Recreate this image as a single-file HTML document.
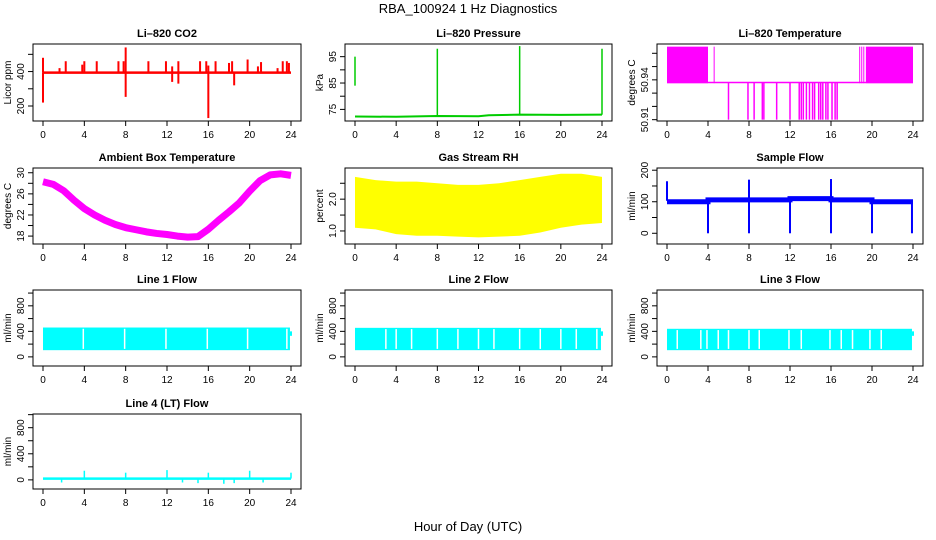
<!DOCTYPE html>
<html><head><meta charset="utf-8">
<style>
html,body{margin:0;padding:0;background:#fff;}
svg{display:block;font-family:"Liberation Sans",sans-serif;}
</style></head>
<body>
<svg id="chart" width="936" height="540" viewBox="0 0 936 540">
<text x="468" y="13" font-size="13" text-anchor="middle">RBA_100924  1 Hz Diagnostics</text>
<text x="468" y="531" font-size="13" text-anchor="middle">Hour of Day (UTC)</text>
</svg>
<script>
// ---------- data ----------
const xTicks = [0,4,8,12,16,20,24];
// CO2
const co2Base = 394;
const co2SpikeT = [0,0,1.6,2.2,3.8,4.0,5.2,7.3,7.8,8,8,10.2,11.9,12.5,12.5,13.1,13.1,15.2,15.8,16,16,16.7,18.0,18.3,18.5,19.8,20.8,21.1,22.7,23.2,23.6,23.8];
const co2SpikeV = [480,220,420,460,440,460,460,460,460,540,253,460,460,430,340,460,330,460,460,435,130,460,450,460,320,470,430,455,420,460,460,450];
// Pressure
const presT = [0,4,8,12,13,16,20,24];
const presV = [72.3,72.2,72.5,72.4,72.8,73.0,72.9,73.0];
const presSpikeT = [0,8,16,24];
const presSpikeLo = [84,72.5,72.8,73];
const presSpikeHi = [95,98,99,98];
// Li-820 temperature
const tBase = 50.938;
const tBandStart = [0,19.4];
const tBandEnd = [4.0,24];
const tBandLo = 50.9375, tBandHi = 50.965;
const tUpT = [4.6,18.8,19.0,19.2];
const tDownT = [6.0,7.9,8.5,9.3,9.45,10.7,12.0,12.9,13.1,13.3,13.6,13.9,14.2,14.4,14.8,15.0,15.2,15.5,15.7,16.1,16.4,16.6];
const tDownV = 50.91;
// Ambient box temperature
const ambT = [0,1,2,3,4,5,6,7,8,9,10,11,12,13,14,15,16,17,18,19,20,21,22,23,24];
const ambV = [28.3,27.8,26.6,24.8,23.2,22.0,21.0,20.2,19.6,19.2,18.8,18.5,18.3,18.0,17.8,17.9,19.3,21.0,22.6,24.3,26.5,28.5,29.6,29.8,29.5];
// Gas stream RH
const rhT = [0,2,4,6,8,10,12,14,16,18,20,22,24];
const rhLo = [1.1,1.05,0.9,0.85,0.85,0.82,0.8,0.82,0.85,0.95,1.1,1.2,1.25];
const rhHi = [2.7,2.6,2.55,2.55,2.5,2.45,2.45,2.5,2.6,2.7,2.8,2.8,2.7];
// Sample flow
const sfT = [0,4,4,12,12,16,16,20,20,24];
const sfV = [100,100,106,106,110,110,106,106,100,100];
const sfSpikeT = [0,4,8,8,12,16,16,20,23.9];
const sfSpikeV = [165,0,170,0,0,172,0,0,0];
// Line flows
const flowLo = [105,105,105];
const flowHi = [460,455,440];
const line1Gaps = [3.9,7.9,11.9,15.9,19.8,23.6];
const line2Gaps = [3.0,4.0,5.5,8.0,10.0,12.0,13.5,16.0,18.0,20.0,21.5,23.5];
const line3Gaps = [1.0,3.3,3.9,5.0,6.0,8.0,9.0,11.9,13.1,15.9,17.0,18.1,19.8,20.9];
// Line 4 (LT)
const l4Base = 20;
const l4SpikeT = [4,8,12,16,20,24,1.8,13.5,15.0,17.5,18.5,21.3];
const l4SpikeV = [140,110,150,110,140,110,-40,-40,-50,-60,-50,-40];

// ---------- drawing ----------
const NS = "http://www.w3.org/2000/svg";
const svg = document.getElementById('chart');
function mk(tag, attrs, parent){
  const e = document.createElementNS(NS, tag);
  for (const k in attrs) e.setAttribute(k, attrs[k]);
  (parent||svg).appendChild(e); return e;
}
const colX = [33,345,657], colW = [268,267,266];
const rowY = [44,168,290,414], rowH = [77,76,76,75];

function panel(c, r, title, ylab, ymin, ymax, ticks, labels, slug){
  const x0 = colX[c], y0 = rowY[r], w = colW[c], h = rowH[r];
  const g = mk('g', {});
  
  
  const sx = t => x0 + 10 + t * (w - 20) / 24;
  const sy = v => y0 + h - (v - ymin) / (ymax - ymin) * h;
  const t = mk('text', {x: x0 + w/2, y: y0 - 7, 'font-size': 11, 'font-weight': 'bold', 'text-anchor': 'middle'}, g);
  t.textContent = title;
  
  
  const data = mk('g', {}, g);
  
  
  const xa = mk('g', {}, g);
  
  
  mk('line', {x1: sx(0), x2: sx(24), y1: y0 + h, y2: y0 + h, stroke: '#000'}, xa);
  xTicks.forEach(v => {
    mk('line', {x1: sx(v), x2: sx(v), y1: y0 + h, y2: y0 + h + 5, stroke: '#000'}, xa);
    const tl = mk('text', {x: sx(v), y: y0 + h + 17, 'font-size': 10, 'text-anchor': 'middle'}, xa);
    tl.textContent = v;
  });
  const ya = mk('g', {}, g);
  
  
  mk('line', {x1: x0, x2: x0, y1: sy(ticks[0]), y2: sy(ticks[ticks.length-1]), stroke: '#000'}, ya);
  ticks.forEach((v, i) => {
    mk('line', {x1: x0 - 5, x2: x0, y1: sy(v), y2: sy(v), stroke: '#000'}, ya);
    if (labels[i] !== '') {
      const tl = mk('text', {x: 0, y: 0, 'font-size': 10, 'text-anchor': 'middle', transform: `translate(${x0 - 9},${sy(v)}) rotate(-90)`}, ya);
      tl.textContent = labels[i];
    }
  });
  const yl = mk('text', {x: 0, y: 0, 'font-size': 10, 'text-anchor': 'middle', transform: `translate(${x0 - 22},${y0 + h/2}) rotate(-90)`}, g);
  yl.textContent = ylab;
  
  
  const box = mk('rect', {x: x0, y: y0, width: w, height: h, fill: 'none', stroke: '#000'}, g);
  
  
  return {sx, sy, data};
}

// CO2
{
  const p = panel(0,0,'Li\u2013820 CO2','Licor ppm',113,560,[200,300,400,500],['200','','400',''],'co2');
  mk('line',{x1:p.sx(0),x2:p.sx(24),y1:p.sy(co2Base),y2:p.sy(co2Base),stroke:'red','stroke-width':2.5},p.data);
  co2SpikeT.forEach((t,i)=>{
    mk('line',{x1:p.sx(t),x2:p.sx(t),y1:p.sy(co2Base),y2:p.sy(co2SpikeV[i]),stroke:'red','stroke-width':2},p.data);
  });
}
// Pressure
{
  const p = panel(1,0,'Li\u2013820 Pressure','kPa',70.6,99.8,[75,80,85,90,95],['75','','85','','95'],'pressure');
  mk('polyline',{points:presT.map((t,i)=>p.sx(t)+','+p.sy(presV[i])).join(' '),fill:'none',stroke:'#00cc00','stroke-width':2},p.data);
  presSpikeT.forEach((t,i)=>{
    mk('line',{x1:p.sx(t),x2:p.sx(t),y1:p.sy(presSpikeLo[i]),y2:p.sy(presSpikeHi[i]),stroke:'#00cc00','stroke-width':1.5},p.data);
  });
}
// Li-820 temperature
{
  const p = panel(2,0,'Li\u2013820 Temperature','degrees C',50.909,50.967,[50.91,50.92,50.93,50.94,50.95,50.96],['50.91','','','50.94','',''],'li820-temp');
  mk('line',{x1:p.sx(0),x2:p.sx(24),y1:p.sy(tBase),y2:p.sy(tBase),stroke:'magenta','stroke-width':1.5},p.data);
  tBandStart.forEach((s,i)=>{
    mk('rect',{x:p.sx(s),y:p.sy(tBandHi),width:p.sx(tBandEnd[i])-p.sx(s),height:p.sy(tBandLo)-p.sy(tBandHi),fill:'magenta'},p.data);
  });
  tUpT.forEach(t=>{
    mk('line',{x1:p.sx(t),x2:p.sx(t),y1:p.sy(tBandLo),y2:p.sy(tBandHi),stroke:'magenta','stroke-width':1},p.data);
  });
  tDownT.forEach(t=>{
    mk('line',{x1:p.sx(t),x2:p.sx(t),y1:p.sy(tBase),y2:p.sy(tDownV),stroke:'magenta','stroke-width':1.5},p.data);
  });
}
// Ambient
{
  const p = panel(0,1,'Ambient Box Temperature','degrees C',16.5,30.9,[18,20,22,24,26,28,30],['18','','22','','26','','30'],'ambient-temp');
  mk('polyline',{points:ambT.map((t,i)=>p.sx(t)+','+p.sy(ambV[i])).join(' '),fill:'none',stroke:'magenta','stroke-width':7,'stroke-linejoin':'round'},p.data);
}
// RH
{
  const p = panel(1,1,'Gas Stream RH','percent',0.59,2.98,[1.0,1.5,2.0,2.5],['1.0','','2.0',''],'gas-rh');
  const pts = rhT.map((t,i)=>p.sx(t)+','+p.sy(rhHi[i])).concat(rhT.slice().reverse().map((t,j)=>{const i=rhT.length-1-j;return p.sx(t)+','+p.sy(rhLo[i]);}));
  mk('polygon',{points:pts.join(' '),fill:'yellow'},p.data);
}
// Sample flow
{
  const p = panel(2,1,'Sample Flow','ml/min',-34,207,[0,50,100,150,200],['0','','100','','200'],'sample-flow');
  mk('polyline',{points:sfT.map((t,i)=>p.sx(t)+','+p.sy(sfV[i])).join(' '),fill:'none',stroke:'blue','stroke-width':5},p.data);
  sfSpikeT.forEach((t,i)=>{
    mk('line',{x1:p.sx(t),x2:p.sx(t),y1:p.sy(103),y2:p.sy(sfSpikeV[i]),stroke:'blue','stroke-width':2},p.data);
  });
}
// Line 1-3 flows
[['Line 1 Flow',line1Gaps,0,'line1-flow'],['Line 2 Flow',line2Gaps,1,'line2-flow'],['Line 3 Flow',line3Gaps,2,'line3-flow']].forEach(([title,gaps,c,slug])=>{
  const p = panel(c,2,title,'ml/min',-143,1048,[0,200,400,600,800,1000],['0','','400','','800',''],slug);
  mk('rect',{x:p.sx(0),y:p.sy(flowHi[c]),width:p.sx(23.9)-p.sx(0),height:p.sy(flowLo[c])-p.sy(flowHi[c]),fill:'cyan'},p.data);
  gaps.forEach(t=>{
    mk('line',{x1:p.sx(t),x2:p.sx(t),y1:p.sy(flowHi[c]-20),y2:p.sy(flowLo[c]+20),stroke:'#fff','stroke-width':1.5},p.data);
  });
  mk('rect',{x:p.sx(23.9),y:p.sy(400),width:p.sx(24)-p.sx(23.9)+1,height:p.sy(330)-p.sy(400),fill:'cyan'},p.data);
});
// Line 4
{
  const p = panel(0,3,'Line 4 (LT) Flow','ml/min',-140,1010,[0,200,400,600,800,1000],['0','','400','','800',''],'line4-flow');
  mk('line',{x1:p.sx(0),x2:p.sx(24),y1:p.sy(l4Base),y2:p.sy(l4Base),stroke:'cyan','stroke-width':2.5},p.data);
  l4SpikeT.forEach((t,i)=>{
    mk('line',{x1:p.sx(t),x2:p.sx(t),y1:p.sy(l4Base),y2:p.sy(l4SpikeV[i]),stroke:'cyan','stroke-width':1.5},p.data);
  });
}
</script>
</body></html>
